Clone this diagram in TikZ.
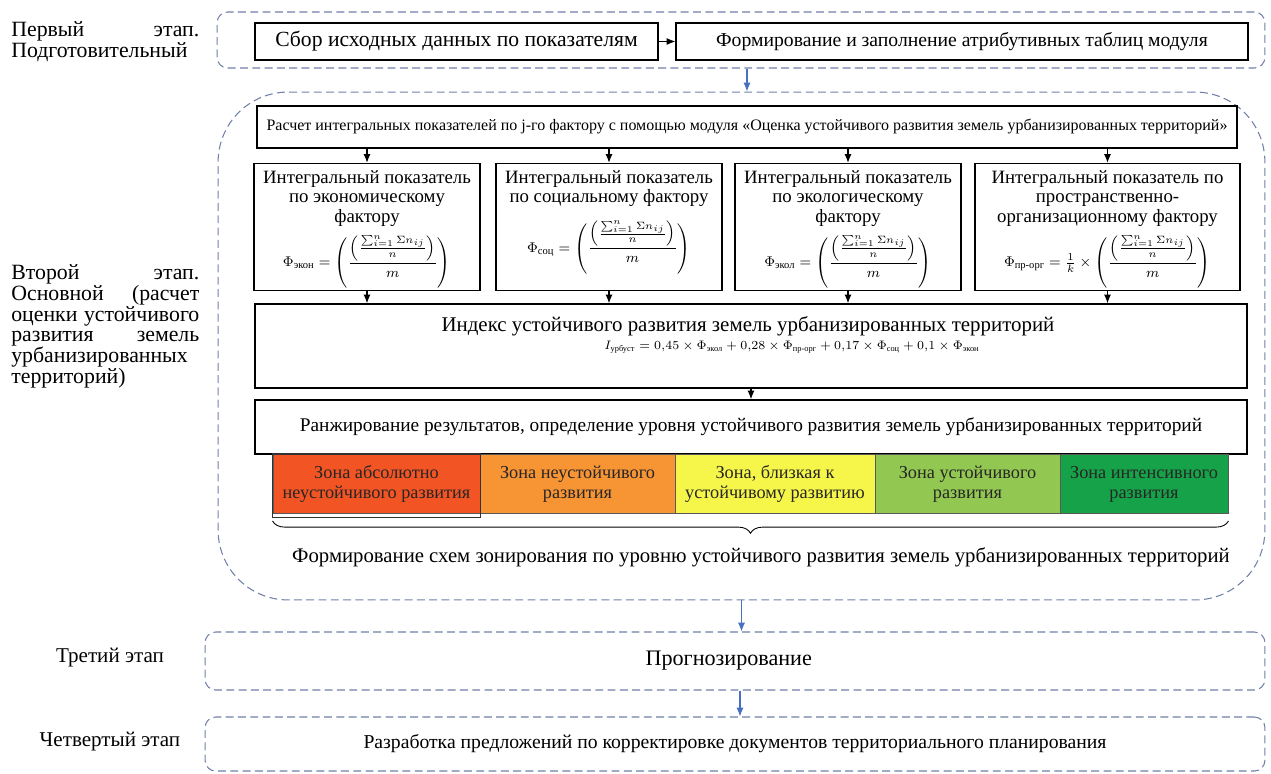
\documentclass[tikz,border=0pt]{standalone}
\usepackage{amsmath}
\usepackage{fontspec}
\setmainfont{Liberation Serif}
\usetikzlibrary{positioning,arrows.meta,decorations.pathreplacing}

\definecolor{stageline}{RGB}{112,128,168}
\definecolor{stageblue}{RGB}{72,112,190}
\definecolor{zoneA}{RGB}{242,84,36}
\definecolor{zoneB}{RGB}{247,148,52}
\definecolor{zoneC}{RGB}{246,246,74}
\definecolor{zoneD}{RGB}{146,200,82}
\definecolor{zoneE}{RGB}{22,162,72}

\def\fracpart{\left(\dfrac{\left(\frac{\sum_{i=1}^{n}\Sigma n_{ij}}{n}\right)}{m}\right)}
\def\phiform#1{{\fontsize{8}{9}\selectfont$\Phi_{\text{#1}}=\fracpart$}}

\tikzset{
  stageframe/.style={draw=stageline, line width=0.6pt, dash pattern=on 4.5pt off 2.5pt, rounded corners=6pt},
  stagelabel/.style={text width=3.76cm, align=justify, inner sep=0pt, font=\fontsize{12.4}{11.9}\selectfont},
  stepbox/.style={draw, line width=0.8pt, fill=white, inner sep=2pt, align=center},
  factortext/.style={align=center, inner sep=2pt, font=\fontsize{10.7}{11.2}\selectfont},
  zonebox/.style={draw=black!65, line width=0.5pt, minimum height=1.18cm, inner sep=1pt, align=center,
    text=black!85, font=\fontsize{10.4}{11.5}\selectfont},
  flow/.style={-{Latex[length=5pt,width=4pt]}, line width=0.6pt},
  stageflow/.style={-{Latex[length=5pt,width=4pt]}, stageblue, line width=0.6pt},
}

\begin{document}
\begin{tikzpicture}[x=0.02cm,y=-0.02cm]
\useasboundingbox (0,0) rectangle (1271,774);

% stage frames
\node[stageframe, minimum width=20.96cm, minimum height=1.12cm] (stage1) at (741,40) {};
\node[stageframe, rounded corners=1.4cm, minimum width=20.94cm, minimum height=10.16cm] (stage2) at (741.5,346) {};
\node[stageframe, minimum width=21.2cm, minimum height=1.16cm, font=\fontsize{12.6}{14}\selectfont] (stage3) at (735,661) {\hspace*{-0.25cm}Прогнозирование};
\node[stageframe, minimum width=21.2cm, minimum height=1.08cm, font=\fontsize{11.2}{13}\selectfont] (stage4) at (735,744) {Разработка предложений по корректировке документов территориального планирования};

% stage labels
\node[stagelabel, anchor=north west] (lab1) at (11,21) {Первый этап. Подготовительный};
\node[stagelabel, anchor=north west] (lab2) at (11,264) {Второй этап.\linebreak Основной (расчет\linebreak оценки устойчивого\linebreak развития земель\linebreak урбанизированных\linebreak территорий)};
\node[font=\fontsize{12}{13}\selectfont] (lab3) at (110,658) {Третий этап};
\node[font=\fontsize{12}{13}\selectfont] (lab4) at (110,742) {Четвертый этап};

% first stage
\node[stepbox, minimum width=8.06cm, minimum height=0.74cm, font=\fontsize{12.3}{13}\selectfont] (collect) at (456.5,41.5) {Сбор исходных данных по показателям};
\node[stepbox, minimum width=11.44cm, minimum height=0.74cm, font=\fontsize{11.2}{13}\selectfont] (tables) at (962,41.5) {Формирование и заполнение атрибутивных таблиц модуля};
\draw[flow] (collect) -- (tables);

% second stage
\node[stepbox, minimum width=19.6cm, minimum height=0.84cm, font=\fontsize{9.1}{11}\selectfont] (calc) at (747,127) {Расчет интегральных показателей по j-го фактору с помощью модуля «Оценка устойчивого развития земель урбанизированных территорий»};

\node[stepbox, minimum width=4.52cm, minimum height=2.54cm] (f1) at (367,227) {};
\node[stepbox, minimum width=4.52cm, minimum height=2.54cm] (f2) at (609,227) {};
\node[stepbox, minimum width=4.52cm, minimum height=2.54cm] (f3) at (848,227) {};
\node[stepbox, minimum width=5.3cm, minimum height=2.54cm] (f4) at (1107.5,227) {};

\node[factortext, anchor=north] (f1text) at ([yshift=-2pt]f1.north) {Интегральный показатель\\ по экономическому\\ фактору\\[4pt] \phiform{экон}};
\node[factortext, anchor=north] (f2text) at ([yshift=-2pt]f2.north) {Интегральный показатель\\ по социальному фактору\\[7pt] \phiform{соц}};
\node[factortext, anchor=north] (f3text) at ([yshift=-2pt]f3.north) {Интегральный показатель\\ по экологическому\\ фактору\\[4pt] \phiform{экол}};
\node[factortext, anchor=north] (f4text) at ([yshift=-2pt]f4.north) {Интегральный показатель по\\ пространственно-\\ организационному фактору\\[4pt]
  {\fontsize{8}{9}\selectfont$\Phi_{\text{пр-орг}}=\frac{1}{k}\times\fracpart$}};

\node[stepbox, minimum width=19.84cm, minimum height=1.68cm] (index) at (751,346) {};
\node[font=\fontsize{11.9}{14}\selectfont, inner sep=1pt] (indextitle) at (748,326) {Индекс устойчивого развития земель урбанизированных территорий};
\node[font=\fontsize{6.8}{8}\selectfont, inner sep=1pt] (indexformula) at (792,347)
  {$I_{\text{урбуст}}=0{,}45\times\Phi_{\text{экол}}+0{,}28\times\Phi_{\text{пр-орг}}+0{,}17\times\Phi_{\text{соц}}+0{,}1\times\Phi_{\text{экон}}$};

\node[stepbox, minimum width=19.84cm, minimum height=1.08cm, font=\fontsize{11}{13}\selectfont] (rank) at (751,427) {Ранжирование результатов, определение уровня устойчивого развития земель урбанизированных территорий};

\foreach \f in {f1,f2,f3,f4}
{
  \draw[flow] (calc.south -| \f.north) -- (\f.north);
  \draw[flow] (\f.south) -- (\f.south |- index.north);
}
\draw[flow] (index.south) -- (rank.north);

% zones
\foreach \zname/\cx/\w/\col/\txt in {
  zA/376.5/4.14/zoneA/{Зона абсолютно\\неустойчивого развития},
  zB/577.5/3.9/zoneB/{Зона неустойчивого\\развития},
  zC/775/4.0/zoneC/{Зона, близкая к\\устойчивому развитию},
  zD/967.5/3.7/zoneD/{Зона устойчивого\\развития},
  zE/1144/3.36/zoneE/{Зона интенсивного\\развития}}
{
  \node[zonebox, fill=\col, minimum width=\w cm] (\zname) at (\cx,484) {\txt};
}
\draw[line width=0.9pt, black!80] (zA.north west) rectangle ([yshift=-2pt]zA.south east);

\draw[decorate, decoration={brace, mirror, amplitude=7pt}, line width=0.5pt]
  ([yshift=-4pt]zA.south west) -- ([yshift=-4pt]zE.south east);
\node[font=\fontsize{11.8}{14}\selectfont] (zoning) at (761,557) {Формирование схем зонирования по уровню устойчивого развития земель урбанизированных территорий};

% stage connectors
\draw[stageflow] ([xshift=0.12cm]stage1.south) -- ([xshift=0.12cm]stage1.south |- stage2.north);
\draw[stageflow] (stage2.south) -- (stage2.south |- stage3.north);
\draw[stageflow] ([xshift=0.1cm]stage3.south) -- ([xshift=0.1cm]stage3.south |- stage4.north);
\end{tikzpicture}
\end{document}
